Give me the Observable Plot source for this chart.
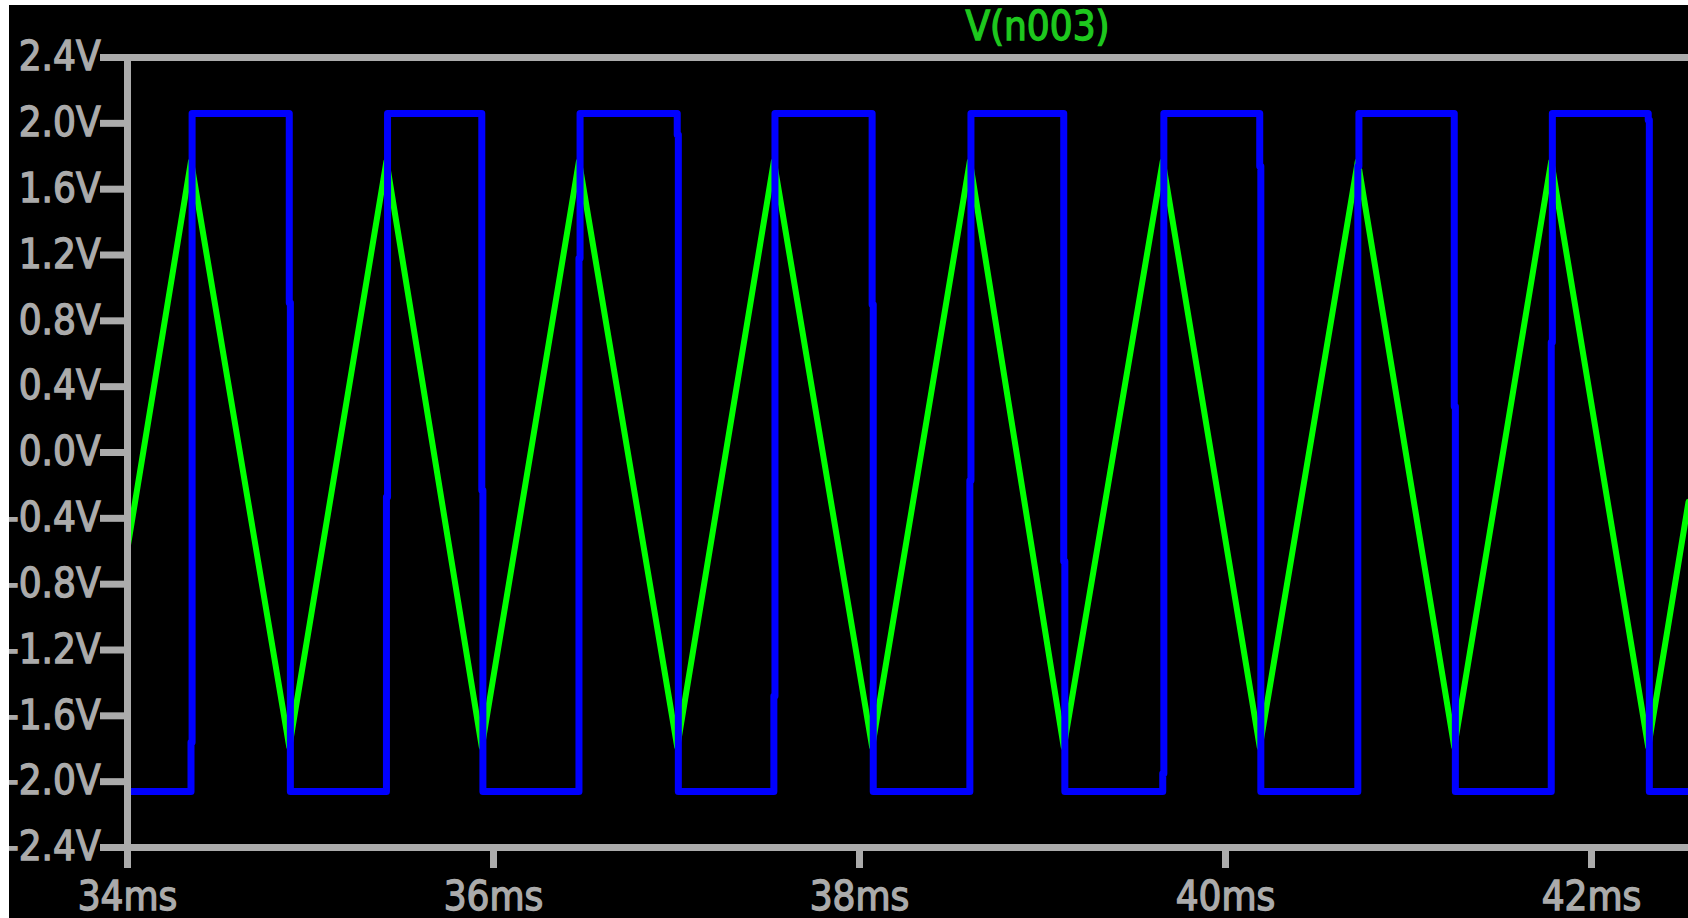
<!DOCTYPE html>
<html>
<head>
<meta charset="utf-8">
<script src="https://cdn.jsdelivr.net/npm/d3@7"></script>
<script src="https://cdn.jsdelivr.net/npm/@observablehq/plot@0.6"></script>
<style>
  html, body { margin: 0; padding: 0; background: #ffffff; width: 1688px; height: 918px; overflow: hidden; }
  #wrap { position: absolute; left: 9px; top: 5px; width: 1679px; height: 913px; background: #000000; overflow: hidden; }
  #title { position: absolute; top: 1px; left: 1028.5px; transform: translateX(-50%); color: #1ec81e;
           font-family: "DejaVu Sans Condensed", "DejaVu Sans", sans-serif; font-stretch: condensed;
           font-size: 40px; line-height: 40px; white-space: nowrap;
           -webkit-text-stroke: 1.3px #1ec81e; }
  #chart { position: absolute; left: 0; top: 0; }
  #chart svg text { stroke: #ababab; stroke-width: 1.3px; paint-order: stroke; }
</style>
</head>
<body>
<div id="wrap">
  <div id="chart"></div>
  <div id="title">V(n003)</div>
</div>
<script>
// ---- axis ticks ----
const xTicks = [34, 36, 38, 40, 42];
const xTickLabels = ["34ms", "36ms", "38ms", "40ms", "42ms"];
const yTicks = [2.4, 2.0, 1.6, 1.2, 0.8, 0.4, 0.0, -0.4, -0.8, -1.2, -1.6, -2.0, -2.4];
const yTickLabels = ["2.4V", "2.0V", "1.6V", "1.2V", "0.8V", "0.4V", "0.0V", "-0.4V", "-0.8V", "-1.2V", "-1.6V", "-2.0V", "-2.4V"];
const xDomain = [34, 42.53];
const yDomain = [-2.4, 2.4];

// ---- square wave (blue) ----
const squareLow = -2.06;
const squareHigh = 2.06;
const riseTimes = [34.347, 35.415, 36.467, 37.532, 38.603, 39.657, 40.723, 41.780];
const fallTimes = [34.884, 35.936, 37.004, 38.069, 39.116, 40.187, 41.250, 42.310];
const riseNotchV = [-1.76, -0.27, 1.18, -1.48, -0.17, -1.95, 1.74, 0.67];
const fallNotchV = [0.91, -0.23, 1.93, 0.90, -0.66, 1.74, 0.28, 2.02];
const notchDt = 0.006;

// ---- triangle wave (green) ----
const triTimes  = [34.000, 34.347, 34.884, 35.415, 35.936, 36.467, 37.004, 37.532, 38.069, 38.603, 39.116, 39.657, 40.187, 40.723, 41.250, 41.780, 42.310, 42.530];
const triValues = [-0.58,  1.77,  -1.79,   1.77,  -1.79,   1.77,  -1.79,   1.77,  -1.79,   1.77,  -1.79,   1.77,  -1.79,   1.77,  -1.79,   1.77,  -1.79,  -0.30];

// build tables
const square = [{t: xDomain[0], v: squareLow}];
riseTimes.forEach((tr, i) => {
  square.push({t: tr, v: squareLow});
  square.push({t: tr, v: riseNotchV[i]});
  square.push({t: tr + notchDt, v: riseNotchV[i]});
  square.push({t: tr + notchDt, v: squareHigh});
  const tf = fallTimes[i];
  square.push({t: tf, v: squareHigh});
  square.push({t: tf, v: fallNotchV[i]});
  square.push({t: tf + notchDt, v: fallNotchV[i]});
  square.push({t: tf + notchDt, v: squareLow});
});
square.push({t: xDomain[1], v: squareLow});

const tri = triTimes.map((t, i) => ({t, v: triValues[i]}));

const gray = "#ababab";
const font = "'DejaVu Sans Condensed', 'DejaVu Sans', sans-serif";

const chart = Plot.plot({
  width: 1679,
  height: 913,
  marginLeft: 118,
  marginRight: 0,
  marginTop: 52,
  marginBottom: 71,
  style: {background: "#000000", fontFamily: font, fontSize: "40px", fontStretch: "condensed", overflow: "visible"},
  x: {type: "linear", domain: xDomain},
  y: {type: "linear", domain: yDomain},
  marks: [
    Plot.line(tri, {x: "t", y: "v", stroke: "#00ff00", strokeWidth: 6}),
    Plot.line(square, {x: "t", y: "v", stroke: "#0000ff", strokeWidth: 7}),
    Plot.ruleY([yDomain[1]], {stroke: gray, strokeWidth: 7}),
    Plot.ruleY([yDomain[0]], {stroke: gray, strokeWidth: 7}),
    Plot.ruleX([xDomain[0]], {stroke: gray, strokeWidth: 7}),
    Plot.axisY({ticks: yTicks, tickFormat: (d) => yTickLabels[yTicks.indexOf(d)], tickSize: 27, tickPadding: 0,
                strokeWidth: 7, color: gray, fontSize: 40, label: null}),
    Plot.axisX({ticks: xTicks, tickFormat: (d) => xTickLabels[xTicks.indexOf(d)], tickSize: 21, tickPadding: 13,
                strokeWidth: 7, color: gray, fontSize: 40, label: null})
  ]
});
document.getElementById("chart").appendChild(chart);
</script>
</body>
</html>
